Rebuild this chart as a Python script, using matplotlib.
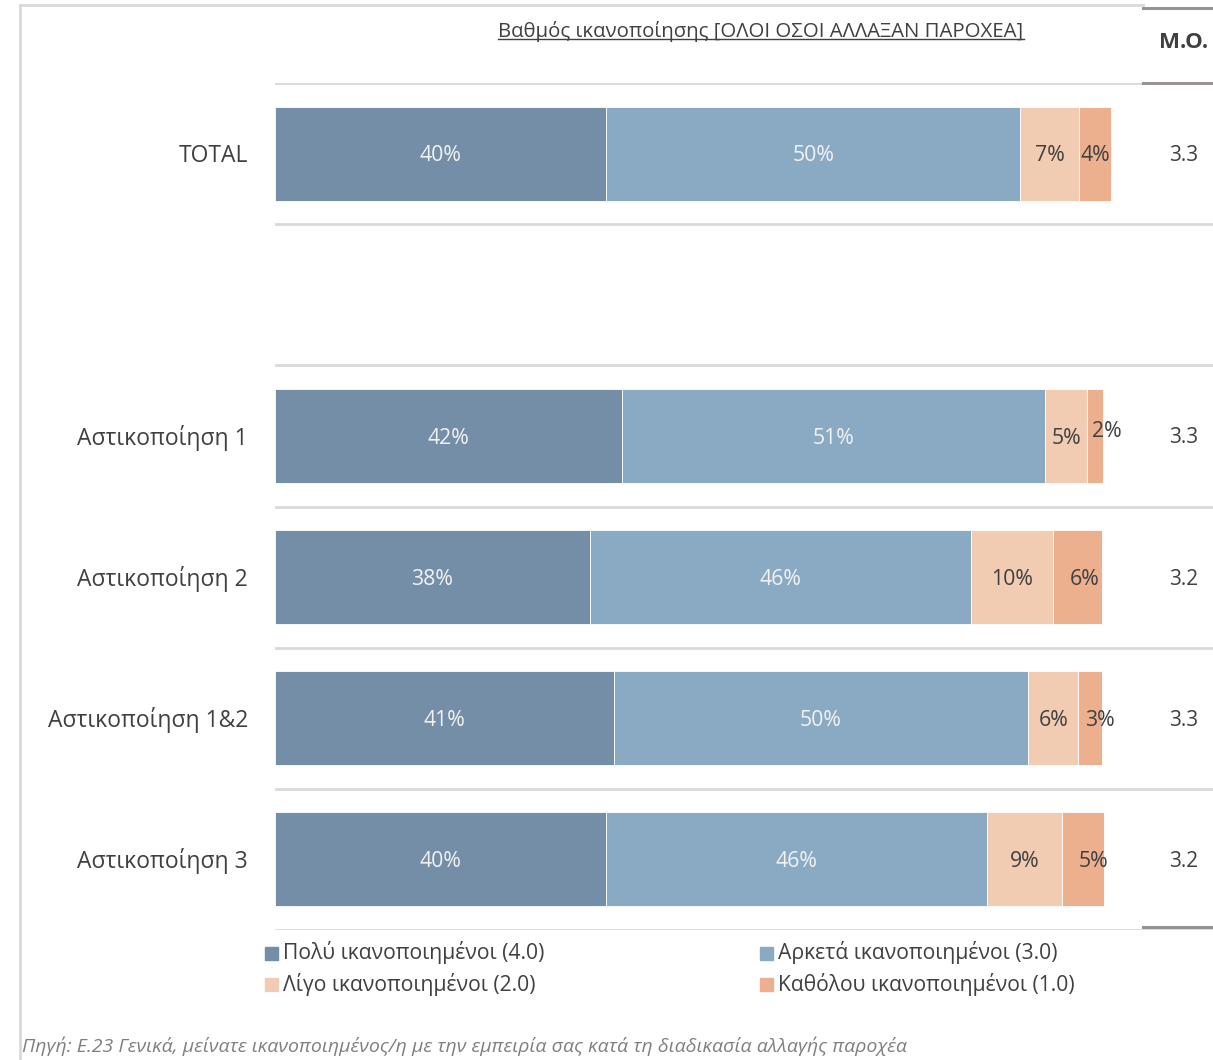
import numpy as np
import matplotlib
matplotlib.use('Agg')
import matplotlib.pyplot as plt
from matplotlib.lines import Line2D
from matplotlib.patches import Rectangle

plt.rcParams['font.family'] = ['Open Sans', 'DejaVu Sans']

categories = ['TOTAL', '', 'Αστικοποίηση 1', 'Αστικοποίηση 2', 'Αστικοποίηση 1&2', 'Αστικοποίηση 3']
very = [40.0, np.nan, 41.9, 38.0, 40.9, 40.0]
quite = [50.0, np.nan, 51.1, 46.0, 50.1, 46.0]
little = [7.1, np.nan, 5.1, 10.0, 6.0, 9.1]
none_ = [3.9, np.nan, 1.9, 5.9, 2.9, 5.0]
very_lbl = ['40%', '', '42%', '38%', '41%', '40%']
quite_lbl = ['50%', '', '51%', '46%', '50%', '46%']
little_lbl = ['7%', '', '5%', '10%', '6%', '9%']
none_lbl = ['4%', '', '2%', '6%', '3%', '5%']
mean_vals = ['3.3', '', '3.3', '3.2', '3.3', '3.2']
series_names = ['Πολύ ικανοποιημένοι (4.0)', 'Αρκετά ικανοποιημένοι (3.0)',
                'Λίγο ικανοποιημένοι (2.0)', 'Καθόλου ικανοποιημένοι (1.0)']
colors = ['#738EA6', '#8AAAC4', '#F1CBB2', '#ECB08F']

W, H = 1213, 1060
fig = plt.figure(figsize=(W / 100, H / 100), dpi=100)

# axes spans bar area + M.O. column, in pixel terms 275..1213, 83..930
x0, x1, y0, y1 = 275, 1213, 83, 930
ax = fig.add_axes([x0 / W, 1 - y1 / H, (x1 - x0) / W, (y1 - y0) / H])
px_per_pct = 8.28
ax.set_xlim(0, (x1 - x0) / px_per_pct)
ax.set_ylim(len(categories) - 0.5, -0.5)
ax.axis('off')

# the last-segment labels sit a little right of centre in the original
last_shift = [0, 0, 1.4, 0.8, 1.2, 1.2]

ypos = np.arange(len(categories))
left = np.zeros(len(categories))
series = [very, quite, little, none_]
labels = [very_lbl, quite_lbl, little_lbl, none_lbl]
for k, (vals, lbls) in enumerate(zip(series, labels)):
    vals = np.array(vals)
    ax.barh(ypos, vals, left=left, height=0.665, color=colors[k], edgecolor='white', linewidth=0.6)
    for i, v in enumerate(vals):
        if np.isnan(v):
            continue
        tc = '#F2F2F2' if k < 2 else '#404040'
        dx = 0
        dy = 0.015
        if k == 3:
            dx = last_shift[i]
            if v < 2.5:
                dy = -0.03
        ax.text(left[i] + v / 2 + dx, i + dy, lbls[i], ha='center', va='center',
                fontsize=15.3, color=tc)
    left = left + np.nan_to_num(vals)

# separators
for b in np.arange(-0.5, len(categories), 1.0):
    ax.axhline(b, color='#D9D9D9', lw=2, zorder=0)

# category labels
for i, c in enumerate(categories):
    fig.text(248 / W, 1 - (y0 + (i + 0.5) * (y1 - y0) / len(categories) + 2) / H, c,
             ha='right', va='center', fontsize=16.5, color='#404040')

# M.O. column
for i, m in enumerate(mean_vals):
    fig.text(1184 / W, 1 - (y0 + (i + 0.5) * (y1 - y0) / len(categories) + 2) / H, m,
             ha='center', va='center', fontsize=15, color='#404040')
fig.text(1184 / W, 1 - 42 / H, 'M.O.', ha='center', va='center', fontsize=16,
         fontweight='bold', color='#404040')
for yy in [8, 83, 927]:
    fig.add_artist(Line2D([1143 / W, 1], [1 - yy / H, 1 - yy / H], color='#9A9393', lw=2.2))

# outer frame
fig.add_artist(Line2D([20 / W, 1143 / W], [1 - 5 / H, 1 - 5 / H], color='#D9D9D9', lw=2))
fig.add_artist(Line2D([20 / W, 20 / W], [1 - 5 / H, 0], color='#D9D9D9', lw=2))

# title, underlined
title = fig.text(761 / W, 1 - 31 / H, 'Βαθμός ικανοποίησης [ΟΛΟΙ ΟΣΟΙ ΑΛΛΑΞΑΝ ΠΑΡΟΧΕΑ]',
                 ha='center', va='center', fontsize=14.7, color='#404040')
fig.canvas.draw()
bb = title.get_window_extent().transformed(fig.transFigure.inverted())
fig.add_artist(Line2D([bb.x0, bb.x1], [bb.y0 + 0.002, bb.y0 + 0.002], color='#404040', lw=1))

# legend
leg_pos = [(265, 953), (760, 953), (265, 984), (760, 984)]
for (lx, ly), name, col in zip(leg_pos, series_names, colors):
    fig.add_artist(Rectangle(((lx) / W, 1 - (ly + 7) / H), 13 / W, 13 / H, color=col,
                             transform=fig.transFigure))
    fig.text((lx + 18) / W, 1 - ly / H, name, ha='left', va='center', fontsize=15.2, color='#404040')

# source note
fig.text(22 / W, 1 - 1046 / H,
         'Πηγή: Ε.23 Γενικά, μείνατε ικανοποιημένος/η με την εμπειρία σας κατά τη διαδικασία αλλαγής παροχέα',
         ha='left', va='center', fontsize=14, style='italic', color='#7F7F7F')

fig.savefig('out.png', dpi=100)
